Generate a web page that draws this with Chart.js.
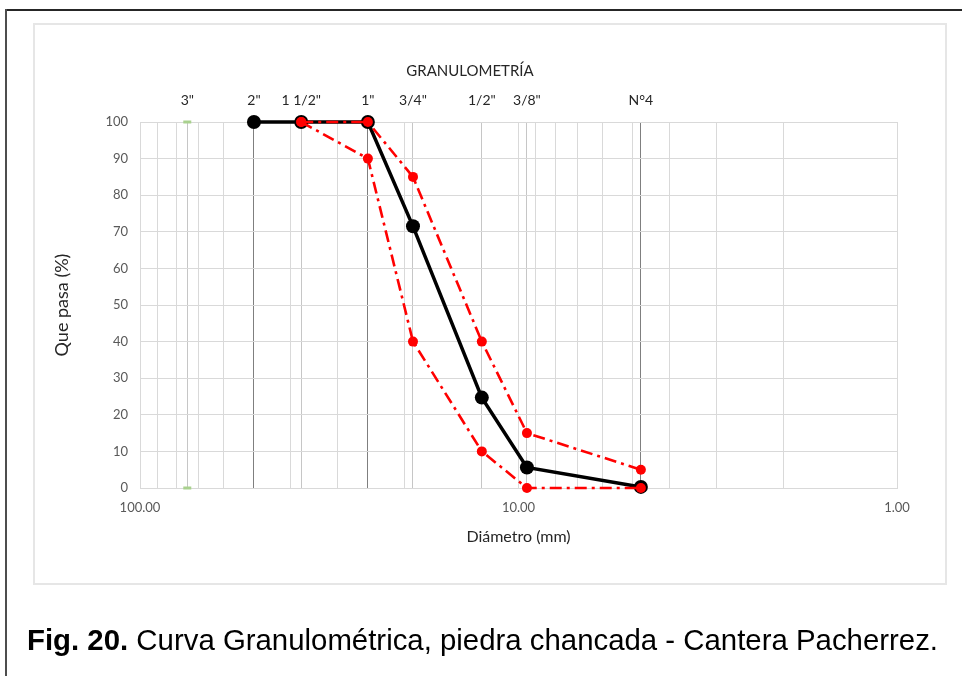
<!DOCTYPE html>
<html>
<head>
<meta charset="utf-8">
<script src="https://cdn.jsdelivr.net/npm/chart.js@4.4.1/dist/chart.umd.min.js"></script>
<style>
  html, body { margin: 0; padding: 0; background: #ffffff; }
  body { width: 962px; height: 676px; position: relative; overflow: hidden; }
  #frameTop { position: absolute; left: 5px; top: 9px; width: 960px; height: 2px; background: #262626; }
  #frameLeft { position: absolute; left: 5px; top: 9px; width: 2px; height: 680px; background: #4d4d4d; }
  #box { position: absolute; left: 33px; top: 23px; width: 910px; height: 558px; border: 2px solid #e6e6e6; }
  #wrap { position: absolute; left: 0; top: 0; width: 962px; height: 676px; }
  #caption { position: absolute; left: 27px; top: 626px; font-family: "Liberation Sans", Arial, sans-serif;
             font-size: 29px; line-height: 29px; color: #000; white-space: nowrap; transform-origin: 0 0; }
</style>
</head>
<body>
<div id="frameTop"></div>
<div id="frameLeft"></div>
<div id="box"></div>
<div id="wrap"><canvas id="c" width="962" height="676"></canvas></div>
<div id="caption"><b>Fig. 20.</b> Curva Granulométrica, piedra chancada - Cantera Pacherrez.</div>
<script>
// ---- data ----
const sieveLabels = ['3"', '2"', '1 1/2"', '1"', '3/4"', '1/2"', '3/8"', 'N°4'];
const sieveSizes = [75, 50, 37.5, 25, 19, 12.5, 9.5, 4.75];
const samplePassing = [null, 100, 100, 100, 71.5, 24.7, 5.6, 0.3];
const upperLimit = [null, null, 100, 100, 85, 40, 15, 5];
const lowerLimit = [null, null, 100, 90, 40, 10, 0, 0];
const marker3in = [100, 0];
const gridValues = [1, 2, 3, 4, 5, 6, 7, 8, 9, 10, 20, 30, 40, 50, 60, 70, 80, 90, 100];
const labeledTicks = [100, 10, 1];
const darkSieves = [50, 25, 4.75];
const yTicks = [0, 10, 20, 30, 40, 50, 60, 70, 80, 90, 100];

function pts(vals) {
  const out = [];
  vals.forEach((v, i) => { if (v !== null) out.push({ x: sieveSizes[i], y: v }); });
  return out;
}

const FONT = 'Lato, "Open Sans", sans-serif';
const redDash = [12, 5, 3, 5];

new Chart(document.getElementById('c'), {
  type: 'scatter',
  data: {
    datasets: [
      {
        label: 'Límite superior', data: pts(upperLimit), showLine: true, order: 1,
        borderColor: '#ff0000', borderWidth: 2.6, borderDash: redDash,
        pointRadius: 5, pointBackgroundColor: '#ff0000', pointBorderWidth: 0, clip: false
      },
      {
        label: 'Límite inferior', data: pts(lowerLimit), showLine: true, order: 1,
        borderColor: '#ff0000', borderWidth: 2.6, borderDash: redDash,
        pointRadius: 5, pointBackgroundColor: '#ff0000', pointBorderWidth: 0, clip: false
      },
      {
        label: 'Muestra', data: pts(samplePassing), showLine: true, order: 2,
        borderColor: '#000000', borderWidth: 3.5,
        pointRadius: 7, pointBackgroundColor: '#000000', pointBorderColor: '#000000', pointBorderWidth: 0, clip: false
      },
      {
        label: '3"', data: marker3in.map(v => ({ x: sieveSizes[0], y: v })), showLine: false, order: 3,
        pointStyle: 'line', pointRadius: 4, borderColor: '#a9d18e', pointBorderColor: '#a9d18e',
        pointBorderWidth: 3, clip: false
      }
    ]
  },
  options: {
    responsive: false,
    animation: false,
    devicePixelRatio: 1,
    layout: { padding: { left: 43, right: 65, top: 0, bottom: 0 } },
    plugins: {
      legend: { display: false },
      tooltip: { enabled: false },
      title: {
        display: true, text: 'GRANULOMETRÍA', color: '#262626',
        font: { family: FONT, size: 15, weight: 'normal', lineHeight: 1.2 },
        padding: { top: 62, bottom: 0 }
      }
    },
    scales: {
      x: {
        type: 'logarithmic', position: 'bottom', reverse: true, min: 1, max: 100,
        afterBuildTicks: s => { s.ticks = gridValues.concat(sieveSizes).map(v => ({ value: v })); },
        afterFit: s => { s.height = 188; },
        ticks: {
          autoSkip: false, maxRotation: 0, padding: 12, color: '#595959',
          font: { family: FONT, size: 13 },
          callback: v => labeledTicks.includes(v) ? v.toFixed(2) : ''
        },
        grid: {
          drawTicks: false, lineWidth: 1,
          color: ctx => {
            const v = ctx.tick ? ctx.tick.value : null;
            if (darkSieves.includes(v)) return '#7f7f7f';
            if (sieveSizes.includes(v) && !gridValues.includes(v)) return '#c6c6c6';
            return '#d9d9d9';
          }
        },
        border: { display: true, color: '#d9d9d9' },
        title: {
          display: true, text: 'Diámetro (mm)', color: '#262626',
          font: { family: FONT, size: 16, lineHeight: 1.2 },
          padding: { top: 0, bottom: 130 }
        }
      },
      x2: {
        type: 'logarithmic', position: 'top', reverse: true, min: 1, max: 100,
        afterBuildTicks: s => { s.ticks = sieveSizes.map(v => ({ value: v })); },
        afterFit: s => { s.height = 42; },
        ticks: {
          autoSkip: false, maxRotation: 0, padding: 13, color: '#262626',
          font: { family: FONT, size: 14 },
          callback: (v, i) => sieveLabels[i]
        },
        grid: { display: false, drawTicks: false },
        border: { display: false }
      },
      y: {
        type: 'linear', min: 0, max: 100,
        afterBuildTicks: s => { s.ticks = yTicks.map(v => ({ value: v })); },
        afterFit: s => { s.width = 97; },
        ticks: { padding: 12, color: '#595959', font: { family: FONT, size: 13 } },
        grid: { drawTicks: false, color: '#d9d9d9', lineWidth: 1 },
        border: { display: true, color: '#d9d9d9' },
        title: {
          display: true, text: 'Que pasa (%)', color: '#262626',
          font: { family: FONT, size: 18, lineHeight: 1.2 },
          padding: { top: 8, bottom: 0 }
        }
      }
    }
  }
});

// fit caption width to the reference span
const cap = document.getElementById('caption');
const w = cap.getBoundingClientRect().width;
cap.style.transform = 'scaleX(' + (911 / w) + ')';
</script>
</body>
</html>
